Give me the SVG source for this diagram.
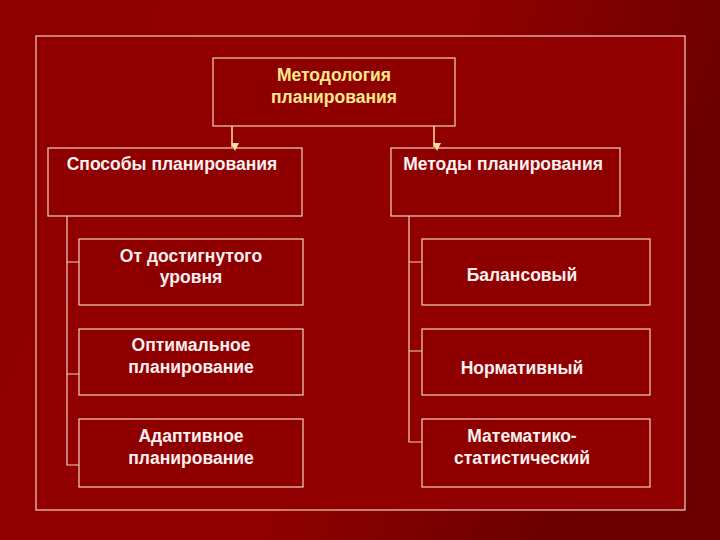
<svg xmlns="http://www.w3.org/2000/svg" width="720" height="540" viewBox="0 0 720 540">
<defs>
<linearGradient id="bg" x1="0" y1="0" x2="1" y2="0.3">
<stop offset="0" stop-color="#8e0000"/><stop offset="0.6" stop-color="#900000"/><stop offset="1" stop-color="#6a0000"/>
</linearGradient>
<marker id="ar" markerWidth="8" markerHeight="8" refX="4" refY="7" orient="auto" markerUnits="userSpaceOnUse"><path d="M0,0 L8,0 L4,8 Z" transform="rotate(-90 4 4)" fill="#ffe0a0"/></marker>
</defs>
<style>
.b{fill:#8e0000;stroke:#f4d0c0;stroke-width:1.2}
.t{font-family:"Liberation Sans",Arial,sans-serif;font-weight:bold;font-size:17.5px;fill:#fff0f0;text-anchor:middle}
.y{fill:#ffe88a}
.c{stroke:#f4d0c0;stroke-width:1.2;fill:none}
.a{stroke:#ffe0a0;stroke-width:1.5;fill:none}
</style>
<rect width="720" height="540" fill="url(#bg)"/>
<rect x="36" y="36" width="649" height="474" fill="#900000" stroke="#f4d0c0" stroke-width="1.2"/>
<g id="top"><rect class="b" x="213" y="58" width="242" height="68"/><text class="t y" x="334" y="81">Методология</text><text class="t y" x="334" y="103">планирования</text></g>
<g id="sposoby"><rect class="b" x="48" y="148" width="254" height="68"/><text class="t" x="172" y="170">Способы планирования</text></g>
<g id="metody"><rect class="b" x="391" y="148" width="229" height="68"/><text class="t" x="503" y="170">Методы планирования</text></g>
<g id="l1"><rect class="b" x="79" y="239" width="224" height="66"/><text class="t" x="191" y="262">От достигнутого</text><text class="t" x="191" y="283">уровня</text></g>
<g id="l2"><rect class="b" x="79" y="329" width="224" height="66"/><text class="t" x="191" y="351">Оптимальное</text><text class="t" x="191" y="373">планирование</text></g>
<g id="l3"><rect class="b" x="79" y="419" width="224" height="68"/><text class="t" x="191" y="442">Адаптивное</text><text class="t" x="191" y="464">планирование</text></g>
<g id="r1"><rect class="b" x="422" y="239" width="228" height="66"/><text class="t" x="522" y="281">Балансовый</text></g>
<g id="r2"><rect class="b" x="422" y="329" width="228" height="66"/><text class="t" x="522" y="374">Нормативный</text></g>
<g id="r3"><rect class="b" x="422" y="419" width="228" height="68"/><text class="t" x="522" y="442">Математико-</text><text class="t" x="522" y="464">статистический</text></g>
<g id="connectors">
<line class="a" x1="232" y1="126" x2="232" y2="147" marker-end="url(#ar)"/>
<line class="a" x1="434" y1="126" x2="434" y2="147" marker-end="url(#ar)"/>
<path class="c" d="M67,216 V465 H79 M67,262 H79 M67,374 H79"/>
<path class="c" d="M409,216 V442 H422 M409,262 H422 M409,351 H422"/>
</g>
</svg>
